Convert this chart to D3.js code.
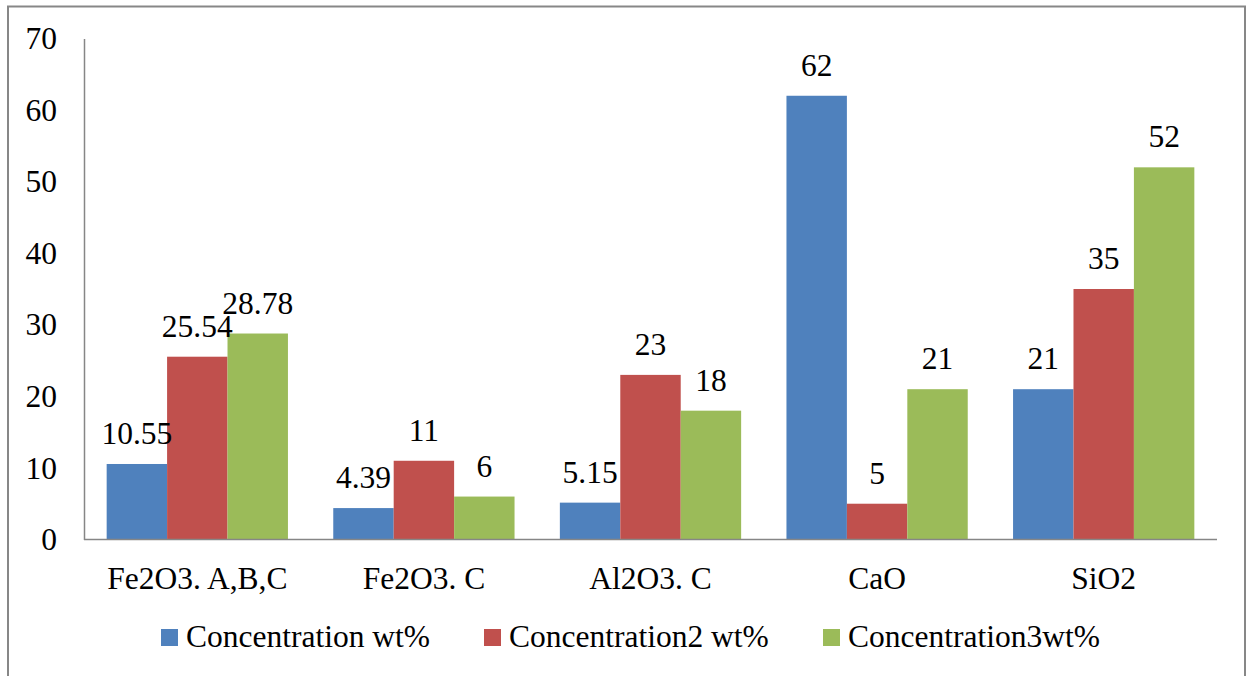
<!DOCTYPE html>
<html>
<head>
<meta charset="utf-8">
<script src="https://cdn.jsdelivr.net/npm/d3@7"></script>
<style>
  html, body { margin: 0; padding: 0; background: #fff; }
  svg { display: block; }
</style>
</head>
<body>
<svg id="chart" width="1247" height="676"></svg>
<script>
const categories = ["Fe2O3. A,B,C", "Fe2O3. C", "Al2O3. C", "CaO", "SiO2"];
const seriesNames = ["Concentration wt%", "Concentration2 wt%", "Concentration3wt%"];
const series1 = [10.55, 4.39, 5.15, 62, 21];
const series2 = [25.54, 11, 23, 5, 35];
const series3 = [28.78, 6, 18, 21, 52];
const labels1 = ["10.55", "4.39", "5.15", "62", "21"];
const labels2 = ["25.54", "11", "23", "5", "35"];
const labels3 = ["28.78", "6", "18", "21", "52"];
const yTicks = [0, 10, 20, 30, 40, 50, 60, 70];
const colors = ["#4F81BD", "#C0504D", "#9BBB59"];

const svg = d3.select("#chart");
const FONT = "'Liberation Serif'";
const FS = "31.5px";
function styleText(sel) {
  return sel.style("font-family", FONT).style("font-size", FS).style("fill", "#000");
}

// outer frame
svg.append("rect")
  .attr("x", 8).attr("y", 6.5)
  .attr("width", 1237).attr("height", 700)
  .attr("fill", "none").attr("stroke", "#878787").attr("stroke-width", 2);

const x0 = 84, x1 = 1217, yTop = 38.5, yBot = 539.5;

const x = d3.scaleBand().domain(categories).range([x0, x1]).paddingInner(0.2).paddingOuter(0.1);
const xs = d3.scaleBand().domain(d3.range(3)).range([0, x.bandwidth()]);
const y = d3.scaleLinear().domain([0, 70]).range([yBot, yTop]);

const data = [series1, series2, series3];
const labs = [labels1, labels2, labels3];

// bars
data.forEach((vals, si) => {
  svg.append("g").selectAll("rect").data(vals).join("rect")
    .attr("x", (d, i) => x(categories[i]) + xs(si))
    .attr("y", d => y(d))
    .attr("width", xs.bandwidth())
    .attr("height", d => yBot - y(d))
    .attr("fill", colors[si]);
});

// axes
const yAxis = d3.axisLeft(y).tickValues(yTicks).tickSize(0).tickPadding(27).tickFormat(d3.format("d"));
const gy = svg.append("g").attr("transform", `translate(${x0},0)`).call(yAxis);
gy.select(".domain").attr("stroke", "#868686").attr("stroke-width", 1.5);
styleText(gy.selectAll("text"));

const xAxis = d3.axisBottom(x).tickSize(0).tickPadding(27);
const gx = svg.append("g").attr("transform", `translate(0,${yBot})`).call(xAxis);
gx.select(".domain").attr("stroke", "#868686").attr("stroke-width", 1.5)
  .attr("d", `M${x0},0H${x1}`);
styleText(gx.selectAll("text"));

// data labels
data.forEach((vals, si) => {
  styleText(svg.append("g").selectAll("text").data(vals).join("text")
    .attr("x", (d, i) => x(categories[i]) + xs(si) + xs.bandwidth() / 2)
    .attr("y", d => y(d) - 20)
    .attr("text-anchor", "middle")
    .text((d, i) => labs[si][i]));
});

// legend
const legendX = [161, 484, 823];
const lg = svg.append("g");
seriesNames.forEach((name, i) => {
  lg.append("rect").attr("x", legendX[i]).attr("y", 629).attr("width", 17).attr("height", 17).attr("fill", colors[i]);
  styleText(lg.append("text").attr("x", legendX[i] + 25).attr("y", 647).text(name));
});
</script>
</body>
</html>
